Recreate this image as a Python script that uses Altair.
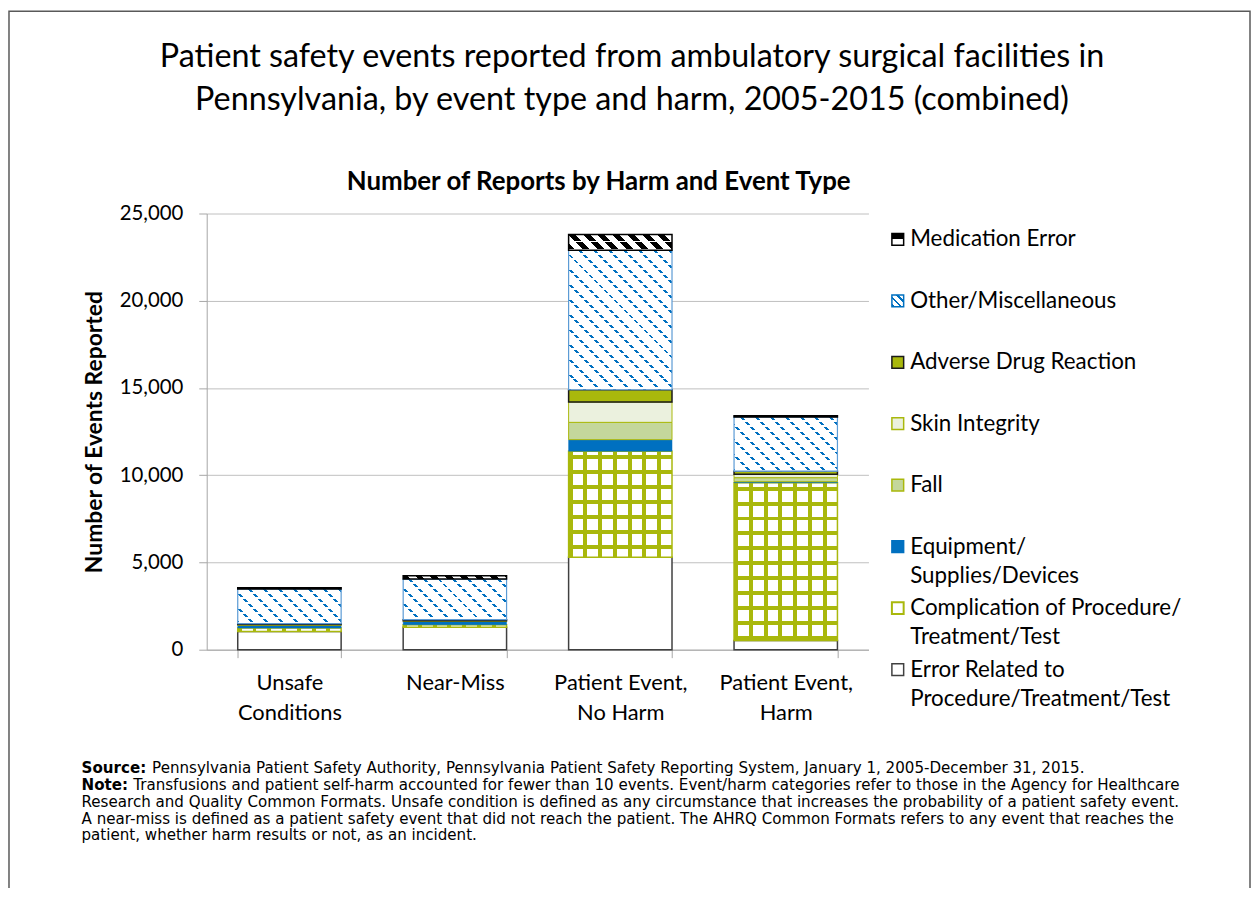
import altair as alt
import pandas as pd

# ---------------- data ----------------
harm = ["Unsafe Conditions", "Near-Miss", "Patient Event, No Harm", "Patient Event, Harm"]
event_types = [
    "Error Related to Procedure/Treatment/Test",
    "Complication of Procedure/Treatment/Test",
    "Equipment/Supplies/Devices",
    "Fall",
    "Skin Integrity",
    "Adverse Drug Reaction",
    "Other/Miscellaneous",
    "Medication Error",
]
error_related = [1040, 1290, 5300, 530]
complication = [200, 140, 6080, 9040]
equipment = [150, 190, 660, 60]
fall = [30, 20, 990, 230]
skin = [30, 20, 1160, 190]
adverse = [40, 60, 710, 180]
other = [1990, 2330, 7990, 3110]
medication = [70, 190, 910, 70]
series = [error_related, complication, equipment, fall, skin, adverse, other, medication]

y_ticks = [0, 5000, 10000, 15000, 20000, 25000]

legend_line1 = ["Medication Error", "Other/Miscellaneous", "Adverse Drug Reaction", "Skin Integrity",
                "Fall", "Equipment/", "Complication of Procedure/", "Error Related to"]
legend_line2 = ["", "", "", "", "", "Supplies/Devices", "Treatment/Test", "Procedure/Treatment/Test"]
legend_events = list(reversed(event_types))

title_lines = ["Patient safety events reported from ambulatory surgical facilities in",
               "Pennsylvania, by event type and harm, 2005-2015 (combined)"]
chart_heading = "Number of Reports by Harm and Event Type"
note_source_label = "Source:"
note_source = "Pennsylvania Patient Safety Authority, Pennsylvania Patient Safety Reporting System, January 1, 2005-December 31, 2015."
note_label = "Note:"
note_lines = [
    "Transfusions and patient self-harm accounted for fewer than 10 events. Event/harm categories refer to those in the Agency for Healthcare",
    "Research and Quality Common Formats. Unsafe condition is defined as any circumstance that increases the probability of a patient safety event.",
    "A near-miss is defined as a patient safety event that did not reach the patient. The AHRQ Common Formats refers to any event that reaches the",
    "patient, whether harm results or not, as an incident.",
]

# ---------------- layout / style ----------------
W, H = 666, 439
YMAX = 25000
PAD_IN, PAD_OUT = 0.375, 0.1875
STEP = W / (len(harm) - PAD_IN + 2 * PAD_OUT)
BW = STEP * (1 - PAD_IN)
FONT = "Lato"
GREEN = "#A9B80C"
BLUE = "#0070C0"
CLEAR = "rgba(255,255,255,0)"

rows = []
for j, et in enumerate(event_types):
    for i, h in enumerate(harm):
        rows.append({"harm": h, "event": et, "order": j, "count": series[j][i]})
df = pd.DataFrame(rows)

label_expr = ("datum.value == 'Unsafe Conditions' ? ['Unsafe', 'Conditions'] : "
              "datum.value == 'Near-Miss' ? 'Near-Miss' : "
              "datum.value == 'Patient Event, No Harm' ? ['Patient Event,', 'No Harm'] : "
              "datum.value == 'Patient Event, Harm' ? ['Patient Event,', 'Harm'] : ''")

x_enc = alt.X("harm:N", sort=harm,
              scale=alt.Scale(domain=harm, paddingInner=PAD_IN, paddingOuter=PAD_OUT),
              axis=alt.Axis(title=None, labelExpr=label_expr, labelAngle=0, labelFont=FONT,
                            labelFontSize=22, labelColor="black", labelPadding=15,
                            labelLineHeight=30, labelBaseline="top",
                            tickBand="extent", tickSize=8, tickColor="#a6a6a6",
                            domainColor="#a6a6a6", grid=False))
y_enc = alt.Y("y0:Q", scale=alt.Scale(domain=[0, YMAX], nice=False),
              axis=alt.Axis(values=y_ticks, format=",d", title="Number of Events Reported",
                            titleFont=FONT, titleFontSize=23, titleFontWeight="bold",
                            titleColor="black", titleAngle=270, titleBaseline="middle",
                            titleAlign="center", titleX=-113, titleY=H / 2,
                            labelFont=FONT, labelFontSize=20.5, labelColor="black",
                            labelPadding=16, tickSize=8, tickColor="#a6a6a6",
                            domainColor="#a6a6a6", gridColor="#bfbfbf", grid=True))
y2_enc = alt.Y2("y1:Q")


def stripe_stops(length, period, start, lw, c_line, c_bg):
    edges = []
    k = -1
    while True:
        a = k * period + start
        if a > length:
            break
        edges.append((a, a + lw))
        k += 1
    stops = []
    cur = 0.0
    for a, b in edges:
        a2, b2 = max(a, 0.0), min(b, length)
        if b2 <= 0 or a2 >= length:
            continue
        if a2 > cur:
            stops += [(cur, c_bg), (a2, c_bg)]
        stops += [(a2, c_line), (b2, c_line)]
        cur = b2
    if cur < length:
        stops += [(cur, c_bg), (length, c_bg)]
    return [{"offset": round(o / length, 5), "color": c} for o, c in stops]


def grad(stops, x1, y1, x2, y2):
    return {"gradient": "linear", "stops": stops, "x1": x1, "y1": y1, "x2": x2, "y2": y2}


def vertical_stripes(w, period, start, lw, c_line, c_bg):
    return grad(stripe_stops(w, period, start, lw, c_line, c_bg), 0, 0, 1, 0)


def horizontal_stripes(h, period, start, lw, c_line, c_bg):
    return grad(stripe_stops(h, period, start, lw, c_line, c_bg), 0, 0, 0, 1)


def diagonal_stripes(w, h, period, lw, c_line, c_bg):
    L = w + h
    s = (w + h) / (w * w + h * h)
    return grad(stripe_stops(L, period, 0, lw, c_line, c_bg), 0, 1, round(s * w, 5), round(1 - s * h, 5))


def base():
    return alt.Chart(df).transform_stack(
        stack="count", groupby=["harm"], sort=[alt.SortField("order", order="ascending")],
        as_=["y0", "y1"])


def bar(event, mark_kw, harm_name=None):
    c = base().transform_filter(alt.datum.event == event)
    if harm_name is not None:
        c = c.transform_filter(alt.datum.harm == harm_name)
    return c.mark_bar(**mark_kw).encode(x=x_enc, y=y_enc, y2=y2_enc)


bar_layers = []
# Error related: white with dark outline
bar_layers.append(bar(event_types[0], dict(fill="white", stroke="#404040", strokeWidth=1.5)))
# Complication: yellow-green grid
for i, hn in enumerate(harm):
    hpx = complication[i] * H / YMAX
    bar_layers.append(bar(event_types[1], dict(
        fill=vertical_stripes(BW, BW / 7, 0, 4, GREEN, "white"),
        stroke=GREEN, strokeWidth=1.5), hn))
    bar_layers.append(bar(event_types[1], dict(
        fill=horizontal_stripes(hpx, 15, 4, 4, GREEN, CLEAR)), hn))
# Solid categories
bar_layers.append(bar(event_types[2], dict(fill=BLUE, stroke=BLUE, strokeWidth=0.5)))
bar_layers.append(bar(event_types[3], dict(fill="#C4D79B", stroke=GREEN, strokeWidth=1)))
bar_layers.append(bar(event_types[4], dict(fill="#EBF1DE", stroke=GREEN, strokeWidth=1)))
bar_layers.append(bar(event_types[5], dict(fill=GREEN, stroke="#1a1a1a", strokeWidth=1.5)))
# Other/Misc: blue diagonal dotted lines
for i, hn in enumerate(harm):
    hpx = other[i] * H / YMAX
    bar_layers.append(bar(event_types[6], dict(
        fill=diagonal_stripes(BW, hpx, 15, 3, BLUE, "white")), hn))
    bar_layers.append(bar(event_types[6], dict(
        fill=horizontal_stripes(hpx, 5, 3, 2, "white", CLEAR),
        stroke="#5B9BD5", strokeWidth=1.2), hn))
# Medication error: staggered black squares
for i, hn in enumerate(harm):
    hpx = medication[i] * H / YMAX
    bar_layers.append(bar(event_types[7], dict(
        fill=diagonal_stripes(BW, hpx, 15, 7, "black", "white")), hn))
    bar_layers.append(bar(event_types[7], dict(
        fill=horizontal_stripes(hpx, 8, 6.5, 1.5, "white", CLEAR),
        stroke="black", strokeWidth=1.5), hn))

bars = alt.layer(*bar_layers)

# ---------------- manual legend ----------------
leg_df = pd.DataFrame({"idx": list(range(len(legend_line1))), "line1": legend_line1,
                       "line2": legend_line2, "event": legend_events})
y_leg = alt.Y("idx:Q", scale=alt.Scale(domain=[0, 7], range=[26, 459], nice=False, zero=False), axis=None)
LX = 695.5

sym_styles = {
    "Medication Error": dict(fill=grad([{"offset": 0, "color": "black"}, {"offset": 0.5, "color": "black"},
                                        {"offset": 0.5, "color": "white"}, {"offset": 1, "color": "white"}],
                                       0, 0, 0, 1), stroke="black", strokeWidth=1.5),
    "Other/Miscellaneous": dict(fill=diagonal_stripes(12, 12, 8, 3, BLUE, "white"), stroke=BLUE, strokeWidth=1.5),
    "Adverse Drug Reaction": dict(fill=GREEN, stroke="#1a1a1a", strokeWidth=1.5),
    "Skin Integrity": dict(fill="#EBF1DE", stroke=GREEN, strokeWidth=1.5),
    "Fall": dict(fill="#C4D79B", stroke=GREEN, strokeWidth=1.5),
    "Equipment/Supplies/Devices": dict(fill=BLUE, stroke=BLUE, strokeWidth=1.5),
    "Complication of Procedure/Treatment/Test": dict(fill="white", stroke=GREEN, strokeWidth=2),
    "Error Related to Procedure/Treatment/Test": dict(fill="white", stroke="#404040", strokeWidth=1.5),
}
leg_layers = []
for k, ev in enumerate(legend_events):
    leg_layers.append(alt.Chart(leg_df).transform_filter(alt.datum.idx == k)
                      .mark_square(size=140, opacity=1, **sym_styles[ev])
                      .encode(x=alt.value(LX), y=y_leg))
leg_layers.append(alt.Chart(leg_df).mark_text(align="left", baseline="middle", font=FONT,
                                              fontSize=22.5, color="black")
                  .encode(x=alt.value(708), y=y_leg, text="line1:N"))
leg_layers.append(alt.Chart(leg_df).mark_text(align="left", baseline="middle", font=FONT,
                                              fontSize=22.5, color="black", yOffset=29.5)
                  .encode(x=alt.value(708), y=y_leg, text="line2:N"))
legend = alt.layer(*leg_layers)

# ---------------- texts ----------------
one = pd.DataFrame({"k": [0]})


def txt(text, x, y, size, weight="normal", align="center", font=FONT, baseline="alphabetic"):
    return alt.Chart(one).mark_text(text=text, fontSize=size, font=font, fontWeight=weight,
                                    align=align, baseline=baseline, color="black").encode(
        x=alt.value(x), y=alt.value(y))


NOTE_FONT = "DejaVu Sans"
NS = 15.2
texts = [
    txt(title_lines[0], 428, -147, 32.5),
    txt(title_lines[1], 428, -104.5, 32.5),
    txt(chart_heading, 394.5, -23.7, 26, weight="bold"),
    txt(note_source_label, -126, 558, NS, weight="bold", align="left", font=NOTE_FONT, baseline="middle"),
    txt(note_source, -55, 558, NS, align="left", font=NOTE_FONT, baseline="middle"),
    txt(note_label, -126, 575, NS, weight="bold", align="left", font=NOTE_FONT, baseline="middle"),
    txt(note_lines[0], -74, 575, NS, align="left", font=NOTE_FONT, baseline="middle"),
    txt(note_lines[1], -126, 592, NS, align="left", font=NOTE_FONT, baseline="middle"),
    txt(note_lines[2], -126, 609, NS, align="left", font=NOTE_FONT, baseline="middle"),
    txt(note_lines[3], -126, 626, NS, align="left", font=NOTE_FONT, baseline="middle"),
]

frame = alt.Chart(one).mark_rect(fillOpacity=0, stroke="#595959", strokeWidth=1.5).encode(
    x=alt.value(-199), x2=alt.value(1050), y=alt.value(-203.5), y2=alt.value(760))

chart = alt.layer(frame, bars, legend, *texts).resolve_scale(y="independent").properties(
    width=W, height=H,
    autosize=alt.AutoSizeParams(type="none"),
    padding={"left": 200, "top": 204, "right": 385, "bottom": 237},
    background="white",
).configure_view(stroke=None)

chart.save("out.html", embed_options={"renderer": "svg", "actions": False})
